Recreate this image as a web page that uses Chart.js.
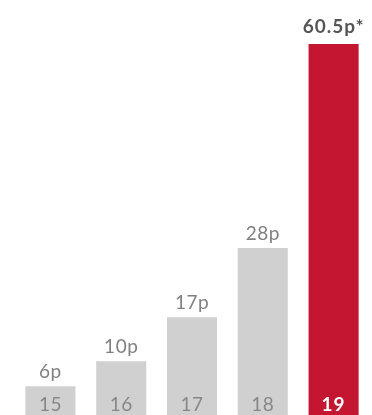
<!DOCTYPE html>
<html>
<head>
<meta charset="utf-8">
<script src="https://cdn.jsdelivr.net/npm/chart.js@4/dist/chart.umd.min.js"></script>
<style>
  html, body { margin: 0; padding: 0; background: #fff; overflow: hidden; }
  #wrap { width: 372px; height: 424px; }
</style>
</head>
<body>
<div id="wrap"><canvas id="chart"></canvas></div>
<script>
// Data
const years = ['15', '16', '17', '18', '19'];
const values = [6, 10, 17, 28, 60.5];
const valueLabels = ['6p', '10p', '17p', '28p', '60.5p*'];

const GREY = '#d0d0d0';
const RED = '#c51631';

// draws the value above each bar and the year inside it
const barLabels = {
    id: 'barLabels',
    afterDatasetsDraw(chart) {
        const ctx = chart.ctx;
        const meta = chart.getDatasetMeta(0);
        ctx.save();
        ctx.textAlign = 'center';
        ctx.textBaseline = 'alphabetic';
        meta.data.forEach((bar, i) => {
            const last = i === values.length - 1;
            ctx.letterSpacing = last ? '1px' : '0.5px';
            ctx.font = (last ? 'bold ' : '') + '19px Lato';
            ctx.fillStyle = last ? '#555555' : '#808080';
            ctx.fillText(valueLabels[i], bar.x, bar.y - (last ? 11 : 8));

            ctx.fillStyle = last ? '#ffffff' : '#878787';
            ctx.fillText(years[i], bar.x, 411);
        });
        ctx.restore();
    }
};

new Chart(document.getElementById('chart'), {
    type: 'bar',
    data: {
        labels: years,
        datasets: [{
            data: values,
            backgroundColor: values.map((v, i) => i === values.length - 1 ? RED : GREY),
            borderWidth: 0,
            barPercentage: 0.707,
            categoryPercentage: 1
        }]
    },
    options: {
        responsive: true,
        maintainAspectRatio: false,
        animation: false,
        layout: { padding: { left: 15, right: 3, top: 0, bottom: 0 } },
        plugins: { legend: { display: false }, tooltip: { enabled: false } },
        scales: {
            x: { display: false },
            y: { display: false, min: 0, max: 67.5 }
        }
    },
    plugins: [barLabels]
});
</script>
</body>
</html>
